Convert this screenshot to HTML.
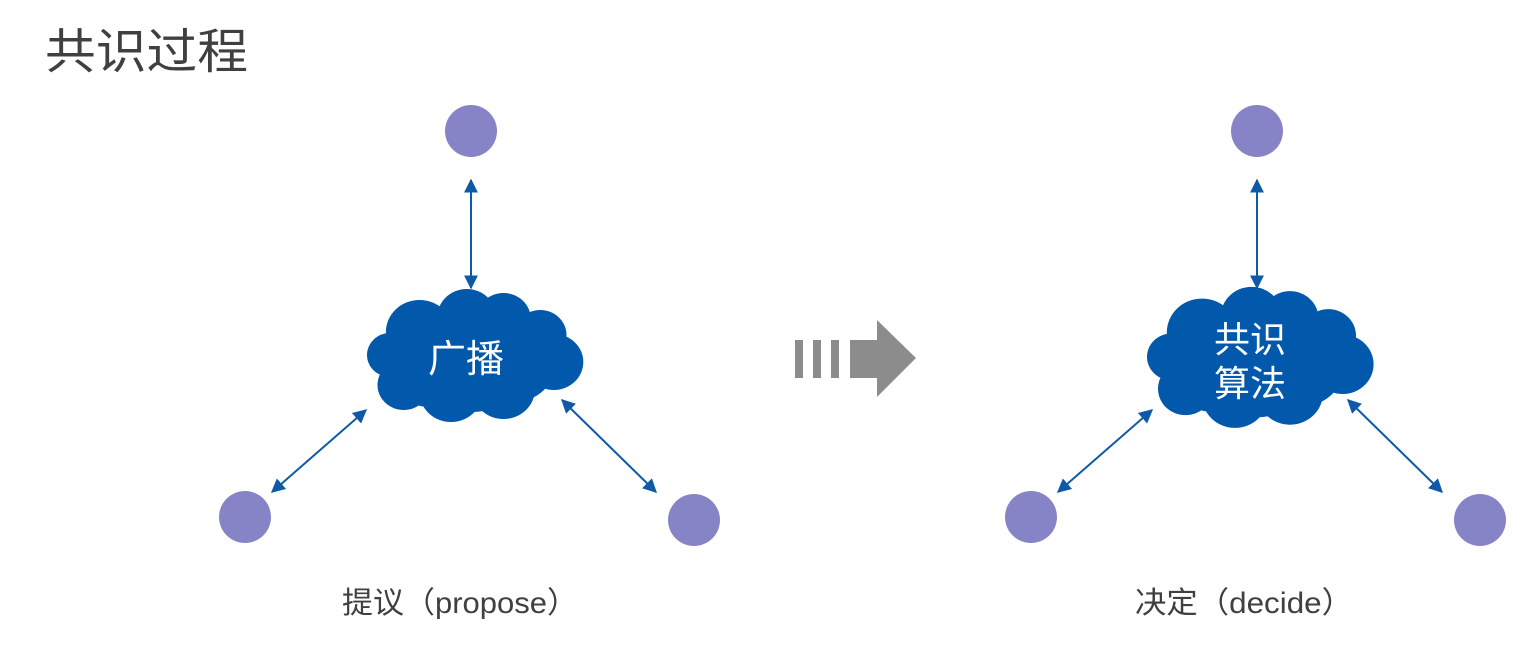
<!DOCTYPE html>
<html><head><meta charset="utf-8"><style>
body{margin:0;background:#fff;}
svg{display:block}
text{font-family:"Liberation Sans","Noto Sans CJK SC",sans-serif}
</style></head><body>
<svg width="1527" height="648" viewBox="0 0 1527 648">
<defs>
<marker id="a" viewBox="0 0 10 10" refX="9" refY="5" markerWidth="7" markerHeight="7" orient="auto-start-reverse"><path d="M0,0L10,5L0,10z" fill="#0f5aa8"/></marker>
<g id="cloud">
<circle cx="-50" cy="-25" r="32"/><circle cx="-5" cy="-40" r="28"/><circle cx="30" cy="-38" r="26"/><circle cx="65" cy="-22" r="25"/>
<circle cx="-78" cy="-2" r="22"/><circle cx="78" cy="5" r="28"/><circle cx="-65" cy="28" r="25"/><circle cx="-20" cy="35" r="30"/>
<circle cx="30" cy="32" r="30"/><circle cx="0" cy="0" r="55"/><circle cx="-40" cy="10" r="40"/><circle cx="40" cy="5" r="40"/>
</g>
</defs>
<text x="45" y="68" font-size="48" fill="#404040" textLength="203" lengthAdjust="spacingAndGlyphs">共识过程</text>

<g fill="#8684c6">
<circle cx="471" cy="131" r="26"/><circle cx="245" cy="517" r="26"/><circle cx="694" cy="520" r="26"/>
<circle cx="1257" cy="131" r="26"/><circle cx="1031" cy="517" r="26"/><circle cx="1480" cy="520" r="26"/>
</g>
<g stroke="#0f5aa8" stroke-width="2" marker-start="url(#a)" marker-end="url(#a)">
<line x1="471" y1="180" x2="471" y2="288"/>
<line x1="272" y1="492" x2="366" y2="410"/>
<line x1="562" y1="400" x2="656" y2="492"/>
<line x1="1257" y1="180" x2="1257" y2="288"/>
<line x1="1058" y1="492" x2="1152" y2="410"/>
<line x1="1348" y1="400" x2="1442" y2="492"/>
</g>
<use href="#cloud" transform="translate(472,357) scale(1.05,1)" fill="#0258ab"/>
<use href="#cloud" transform="translate(1257,359) scale(1.1,1.06)" fill="#0258ab"/>
<text x="466" y="372" font-size="38" fill="#fff" text-anchor="middle">广播</text>
<text x="1250" y="352" font-size="36" fill="#fff" text-anchor="middle">共识</text>
<text x="1250" y="396" font-size="36" fill="#fff" text-anchor="middle">算法</text>

<g fill="#8c8c8c">
<rect x="795" y="340" width="8" height="38"/><rect x="813" y="340" width="8" height="38"/><rect x="831" y="340" width="8" height="38"/>
<path d="M850,340H877V320L916,358L877,397V378H850z"/>
</g>
<text x="342" y="613" font-size="30" fill="#404040" textLength="236" lengthAdjust="spacingAndGlyphs">提议（propose）</text>
<text x="1135" y="613" font-size="30" fill="#404040" textLength="218" lengthAdjust="spacingAndGlyphs">决定（decide）</text>
</svg>
</body></html>
